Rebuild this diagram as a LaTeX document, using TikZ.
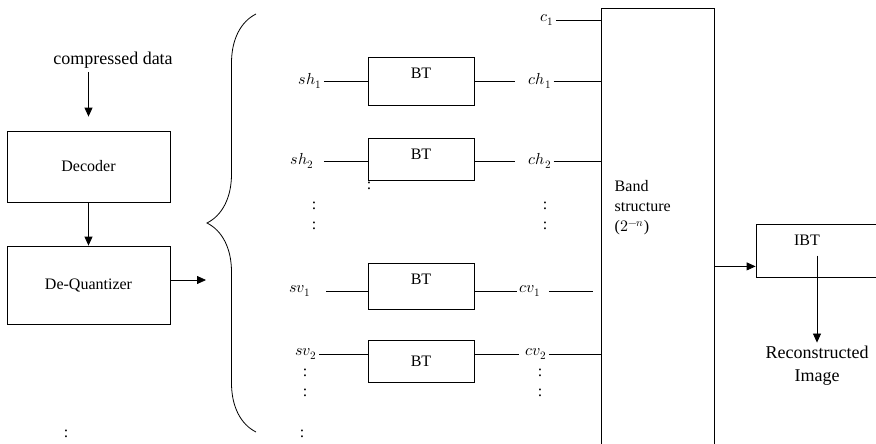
\documentclass[tikz,border=0pt]{standalone}
\usepackage{fontspec}
\usepackage{unicode-math}
\setmainfont{Liberation Serif}
\setmathfont{Latin Modern Math}
\usepackage{tikz}
\usetikzlibrary{arrows.meta, positioning, decorations.pathreplacing}

\begin{document}
\begin{tikzpicture}[x=1pt, y=-1pt, line width=0.8pt,
  every node/.style={font=\fontsize{16}{20}\selectfont},
  big/.style={font=\fontsize{18}{23}\selectfont},
  block/.style={draw, rectangle, inner sep=0pt},
  sig/.style={inner sep=2pt},
  dots/.style={inner sep=0pt},
  arr/.style={-{Triangle[length=9pt, width=8pt]}}]
\useasboundingbox (0,0) rectangle (876,444);

% Decoding chain
\node[big] (data) at (113,60) {compressed data};
\node[block, minimum width=163pt, minimum height=71pt] (dec) at (88.5,166.5) {Decoder};
\node[block, minimum width=163pt, minimum height=78pt] (deq) at (88.5,285) {De-Quantizer};
\coordinate (deqout) at (206,280);
\draw[arr, shorten >=14pt] (data.south -| dec.north) -- (dec.north);
\draw[arr] (dec) -- (deq);
\draw[arr] (deqout -| deq.east) -- (deqout);
\node[dots] (dleft) at (66,434) {:};

% Brace
\draw[decorate, decoration={brace, amplitude=49pt}] (256,432) -- (256,14);

% Band structure
\node[block, minimum width=113pt, minimum height=460pt] (band) at (657.5,238) {};
\node[anchor=west, align=left] (bandlbl) at (611,208) {Band\\structure\\($2^{-n}$)};

% BT blocks
\node[block, minimum width=106pt, minimum height=48pt] (bt1) at (421,81) {};
\node[below=8pt of bt1.north] (bt1lbl) {BT};
\node[block, minimum width=106pt, minimum height=42pt] (bt2) at (421,159) {};
\node[below=8pt of bt2.north] (bt2lbl) {BT};
\node[block, minimum width=106pt, minimum height=46pt] (bt3) at (421,286) {};
\node[below=8pt of bt3.north] (bt3lbl) {BT};
\node[block, minimum width=106pt, minimum height=42pt] (bt4) at (421,361) {BT};

% Sub-bands
\node[sig] (c1) at (547,20) {$c_1$};
\node[sig] (sh1) at (310,81) {$sh_1$};
\node[sig] (ch1) at (540,81) {$ch_1$};
\node[sig] (sh2) at (302,161) {$sh_2$};
\node[sig] (ch2) at (540,161) {$ch_2$};
\node[sig] (sv1) at (300,291) {$sv_1$};
\node[sig] (cv1) at (530,291) {$cv_1$};
\node[sig] (sv2) at (306,354) {$sv_2$};
\node[sig] (cv2) at (536,354) {$cv_2$};

\draw (c1.east) -- (c1.east -| band.west);
\draw (sh1.east) -- (sh1.east -| bt1.west);
\draw[shorten >=11pt] (bt1.east |- ch1.west) -- (ch1.west);
\draw (ch1.east) -- (ch1.east -| band.west);
\draw[shorten <=8pt] (sh2.east) -- (sh2.east -| bt2.west);
\draw[shorten >=11pt] (bt2.east |- ch2.west) -- (ch2.west);
\draw (ch2.east) -- (ch2.east -| band.west);
\draw[shorten <=13pt] (sv1.east) -- (sv1.east -| bt3.west);
\draw (bt3.east |- cv1.west) -- (cv1.west);
\draw[shorten <=6pt, shorten >=8pt] (cv1.east) -- (cv1.east -| band.west);
\draw (sv2.east) -- (sv2.east -| bt4.west);
\draw[shorten >=4pt] (bt4.east |- cv2.west) -- (cv2.west);
\draw (cv2.east) -- (cv2.east -| band.west);

% Dots
\node[dots] (dbt) at (369,186) {:};
\node[dots] (dsh1) at (314,206) {:};
\node[dots] (dsh2) at (314,226) {:};
\node[dots] (dch1) at (545,206) {:};
\node[dots] (dch2) at (545,226) {:};
\node[dots] (dsv1) at (305,373) {:};
\node[dots] (dsv2) at (305,393) {:};
\node[dots] (dcv1) at (540,373) {:};
\node[dots] (dcv2) at (540,393) {:};
\node[dots] (dsv3) at (302,434) {:};

% Inverse transform
\node[block, minimum width=134pt, minimum height=53pt] (ibt) at (823,250.5) {};
\node[below=8pt of ibt.north, xshift=-16pt] (ibtlbl) {IBT};
\coordinate (ibtin) at ([yshift=11pt]ibt.south west);
\draw[arr] (ibtin -| band.east) -- (ibtin);
\node[big, align=center] (recon) at (817,366) {Reconstructed\\Image};
\draw[arr, shorten <=6pt] (ibtlbl.south -| recon.north) -- (recon.north);
\end{tikzpicture}
\end{document}
